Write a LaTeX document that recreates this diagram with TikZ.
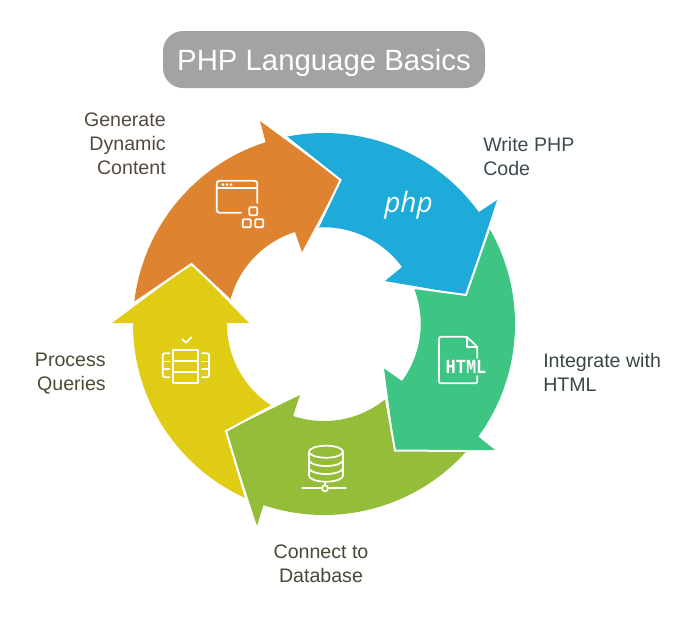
\documentclass[tikz,border=0pt]{standalone}
\usepackage{fontspec}
\setmainfont{Liberation Sans}
\newfontfamily\phpfont{Open Sans}
\newfontfamily\htmlfont[FakeStretch=0.85]{Liberation Mono}
\definecolor{gentext}{HTML}{54493F}
\definecolor{writetext}{HTML}{3C4A52}
\definecolor{htmltext}{HTML}{35493F}
\definecolor{dbtext}{HTML}{454A35}
\definecolor{proctext}{HTML}{4D4932}
\definecolor{genfill}{HTML}{DE8431}
\definecolor{writefill}{HTML}{1EABDA}
\definecolor{htmlfill}{HTML}{3EC583}
\definecolor{dbfill}{HTML}{94BE39}
\definecolor{procfill}{HTML}{E0CC15}
\definecolor{titlefill}{HTML}{A3A3A3}
\tikzset{
    %Define style for the title
    titlebox/.style={
           rectangle,
           rounded corners=15pt,
           fill=titlefill,
           text=white,
           minimum width=241.5pt,
           minimum height=42.75pt,
           text height=16.5pt,
           text depth=0pt,
           font=\fontsize{22}{26}\selectfont},
    % Define style for the side texts
    steptext/.style={
           inner sep=0pt,
           font=\fontsize{14.7}{18}\selectfont},
    % Define line styles
    seam/.style={
           draw=white,
           line width=1.5pt,
           line join=miter},
    icon/.style={
           draw=white,
           line width=1.3pt,
           line cap=round,
           line join=round}
}
\begin{document}
\begin{tikzpicture}[x=0.75pt,y=-0.75pt]
  \useasboundingbox (0,0) rectangle (696,636);

  \node[titlebox] (title) at (324,59.5) {PHP Language Basics};

  % arrow tips
  \coordinate (gentip) at (340.5,180);
  \coordinate (writetip) at (466,295);
  \coordinate (htmltip) at (395,450.5);
  \coordinate (dbtip) at (226,431);
  \coordinate (proctip) at (191.5,264);

  % ring of arrows
  \fill[writefill] (324,324) ++(258.5:191) arc[start angle=258.5,end angle=324.15,radius=191]
    -- (497,200) -- (writetip) -- (385,281) -- (402,267)
    arc[start angle=323.8,end angle=266.5,radius=97] -- (gentip) -- cycle;
  \fill[genfill] (324,324) ++(186.3:191) arc[start angle=186.3,end angle=252.2,radius=191]
    -- (260,121) -- (gentip) -- (302,252) -- (295,232)
    arc[start angle=252.5,end angle=194.3,radius=97] -- (proctip) -- cycle;
  \fill[htmlfill] (324,324) ++(330.1:191) arc[start angle=330.1,end angle=396.1,radius=191]
    -- (495,450) -- (htmltip) -- (384,368.5) -- (402,381)
    arc[start angle=36.2,end angle=-21.8,radius=97] -- (writetip) -- cycle;
  \fill[dbfill] (324,324) ++(42:191) arc[start angle=42,end angle=108.5,radius=191]
    -- (257,526) -- (dbtip) -- (300,395) -- (293,416)
    arc[start angle=108.6,end angle=50.4,radius=97] -- (htmltip) -- cycle;
  \fill[procfill] (324,324) ++(114.1:191) arc[start angle=114.1,end angle=180.3,radius=191]
    -- (112,323) -- (proctip) -- (249,323) -- (227,323)
    arc[start angle=180.6,end angle=122.4,radius=97] -- (dbtip) -- cycle;

  % white lines between the arrows
  \draw[seam] (286,137) -- (gentip) -- (318,227);
  \draw[seam] (489,229) -- (writetip) -- (414,288);
  \draw[seam] (465,451) -- (htmltip) -- (386,399);
  \draw[seam] (246,498) -- (dbtip) -- (272,406);
  \draw[seam] (134,303) -- (proctip) -- (230,300);

  % window icon
  \draw[icon] (241,212.7) -- (219,212.7) [rounded corners=2pt] -- (216.7,212.7) -- (216.7,180.7)
    -- (257.3,180.7) -- (257.3,203);
  \draw[icon] (216.7,188) -- (257.3,188);
  \foreach \dotx in {223,227,231}
    \fill[white] (\dotx,184.5) circle (1.5);
  \foreach \boxx/\boxy in {249.3/207.3,242.7/219.3,255.2/219.3}
    \draw[icon,rounded corners=0.8pt] (\boxx,\boxy) rectangle ++(8,8);

  % php icon
  \node[white,inner sep=0pt,font=\phpfont\itshape\fontsize{21}{21}\selectfont] (phplogo) at (408.5,205) {php};

  % html icon
  \draw[icon,rounded corners=1.5pt] (477.3,358) -- (477.3,346.7) -- (466.7,336.7) -- (439,336.7)
    -- (439,383.3) -- (477.3,383.3) -- (477.3,376);
  \draw[icon] (466.7,336.7) -- (466.7,346.7) -- (477.3,346.7);
  \node[white,inner sep=0pt,font=\htmlfont\bfseries\fontsize{15}{15}\selectfont] (htmllogo) at (466,367) {HTML};

  % database icon
  \draw[icon] (326,451.7) ellipse (17 and 6);
  \draw[icon] (309,451.7) -- (309,475.7) arc[start angle=180,end angle=0,x radius=17,y radius=6] -- (343,451.7);
  \draw[icon] (309,460) arc[start angle=180,end angle=0,x radius=17,y radius=6];
  \draw[icon] (309,468) arc[start angle=180,end angle=0,x radius=17,y radius=6];
  \draw[icon] (302.3,488.3) -- (322,488.3) (328,488.3) -- (345.7,488.3) (325,482) -- (325,485.3);
  \draw[icon] (325,488.3) circle (3);

  % table icon
  \draw[icon] (173.3,350) rectangle (198.3,382.7);
  \draw[icon] (173.3,360.7) -- (198.3,360.7) (173.3,372.3) -- (198.3,372.3);
  \draw[icon,rounded corners=1.5pt] (169.5,353.3) -- (162.7,353.3) -- (162.7,377.3) -- (169.5,377.3);
  \draw[icon] (162.7,361.5) -- (169.5,361.5) (162.7,369.3) -- (169.5,369.3);
  \draw[icon,rounded corners=1.5pt] (202,353.3) -- (209,353.3) -- (209,377.3) -- (202,377.3);
  \draw[icon] (202,361.5) -- (209,361.5) (202,369.3) -- (209,369.3);
  \draw[icon] (182.3,339.3) -- (186,342.7) -- (191.3,337.3);

  % texts
  \node[steptext,text=gentext,align=right,anchor=north east] (gen) at (166,113) {Generate\\Dynamic\\Content};
  \node[steptext,text=writetext,align=left,anchor=north west] (write) at (483,137) {Write PHP\\Code};
  \node[steptext,text=htmltext,align=left,anchor=north west] (html) at (543,353) {Integrate with\\HTML};
  \node[steptext,text=dbtext,align=center,anchor=north] (db) at (321,545) {Connect to\\Database};
  \node[steptext,text=proctext,align=right,anchor=north east] (proc) at (106,353) {Process\\Queries};
\end{tikzpicture}
\end{document}
